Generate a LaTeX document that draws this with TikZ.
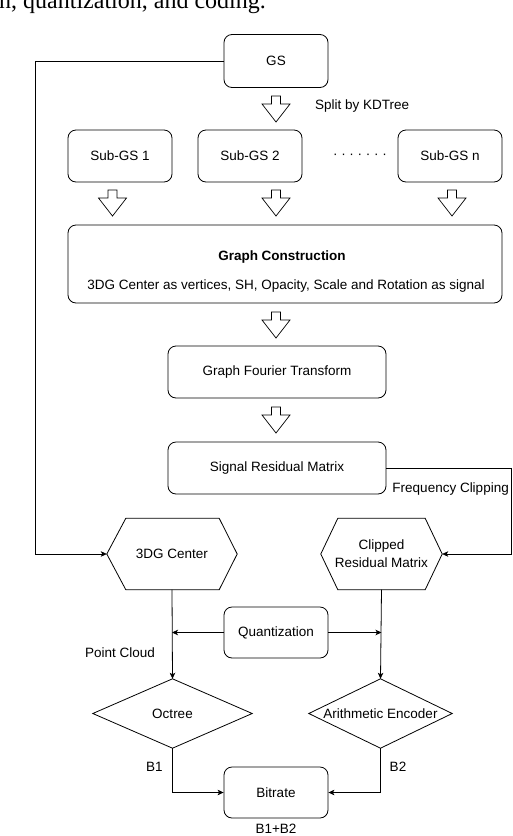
\documentclass[tikz,border=0pt]{standalone}
\usepackage{fontspec}
\setmainfont{Liberation Sans}
\newfontfamily\capfont{Liberation Serif}
\usetikzlibrary{arrows.meta}
\tikzset{
  txt/.style={font=\fontsize{13.5}{18}\selectfont},
  rbox/.style={draw, line width=0.8pt, rounded corners=8pt, minimum width=104pt, minimum height=52pt, inner sep=0pt, txt},
  shapebox/.style={inner sep=0pt, txt, align=center},
  lbl/.style={inner sep=0pt, txt},
  conn/.style={line width=0.8pt, -{Stealth[length=6pt,width=5.5pt,inset=1.5pt]}},
  outline/.style={line width=0.8pt},
  blockarrow/.pic={\draw[line width=0.7pt, line join=miter] (-4.5,0) -- (4.5,0) -- (4.5,8) -- (14,8) -- (0,26) -- (-14,8) -- (-4.5,8) -- cycle;}
}
\begin{document}
\begin{tikzpicture}[x=1pt,y=-1pt]
\useasboundingbox (0,0) rectangle (512,836);

% cropped caption line
\node[anchor=base west, inner sep=0pt, font=\capfont\fontsize{24}{24}\selectfont] (cap) at (-1,8) {n, quantization, and coding.};

% top boxes
\node[rbox, minimum height=53pt] (gs) at (276,61) {GS};
\pic at (276,96) {blockarrow};
\node[lbl, anchor=west] (split) at (315,106) {Split by KDTree};

\node[rbox] (sub1) at (120,156) {Sub-GS 1};
\node[rbox] (sub2) at (250,156) {Sub-GS 2};
\node[lbl] (dots) at (360,156) {· · · · · · ·};
\node[rbox] (subn) at (450,156) {Sub-GS n};

\pic at (112.5,190) {blockarrow};
\pic at (276,190) {blockarrow};
\pic at (452,190) {blockarrow};

\node[rbox, minimum width=434pt, minimum height=78pt] (gc) at (285,264) {};
\node[lbl, font=\fontsize{13.5}{18}\selectfont\bfseries] (gct1) at (282,257) {Graph Construction};
\node[lbl] (gct2) at (286,286) {3DG Center as vertices, SH, Opacity, Scale and Rotation as signal};

\pic at (276,312) {blockarrow};
\node[rbox, minimum width=218pt] (gft) at (277,372) {Graph Fourier Transform};
\pic at (276,407) {blockarrow};
\node[rbox, minimum width=218pt] (srm) at (277,468) {Signal Residual Matrix};
\node[lbl, anchor=east] (fc) at (509,489) {Frequency Clipping};

% hexagons
\node[shapebox, minimum width=130pt, minimum height=71pt] (c3dg) at (172,554) {3DG Center};
\draw[outline] ([xshift=19pt]c3dg.north west) -- ([xshift=-18pt]c3dg.north east) -- (c3dg.east) -- ([xshift=-18pt]c3dg.south east) -- ([xshift=19pt]c3dg.south west) -- (c3dg.west) -- cycle;

\node[shapebox, minimum width=121pt, minimum height=71pt] (clip) at (381.5,554) {Clipped\\Residual Matrix};
\draw[outline] ([xshift=17pt]clip.north west) -- ([xshift=-17pt]clip.north east) -- (clip.east) -- ([xshift=-17pt]clip.south east) -- ([xshift=17pt]clip.south west) -- (clip.west) -- cycle;

% quantization
\node[rbox, minimum height=51pt] (quant) at (276,632.5) {Quantization};
\node[lbl] (pc) at (120,653) {Point Cloud};

% diamonds
\node[shapebox, minimum width=159pt, minimum height=69pt] (oct) at (172.5,713.5) {Octree};
\draw[outline] (oct.north) -- (oct.east) -- (oct.south) -- (oct.west) -- cycle;
\node[shapebox, minimum width=143pt, minimum height=69pt] (ae) at (380.5,713.5) {Arithmetic Encoder};
\draw[outline] (ae.north) -- (ae.east) -- (ae.south) -- (ae.west) -- cycle;

\node[lbl] (b1) at (154.5,767) {B1};
\node[lbl] (b2) at (398,767) {B2};
\node[rbox, minimum height=51pt] (bit) at (276,792.5) {Bitrate};
\node[lbl] (b12) at (276,829) {B1+B2};

% connectors
\coordinate (lt) at (35,61);
\coordinate (lb) at (35,554);
\coordinate (rt) at (511,468);
\coordinate (rb) at (511,554);
\draw[conn] (gs.west) -- (lt) -- (lb) -- (c3dg.west);
\draw[conn] (srm.east) -- (rt) -- (rb) -- (clip.east);
\draw[conn] (c3dg.south) -- (oct.north);
\draw[conn] (clip.south) -- (ae.north);
\draw[conn] (quant.west) -- (quant.west -| c3dg.south);
\draw[conn] (quant.east) -- (quant.east -| clip.south);
\draw[conn] (oct.south) |- (bit.west);
\draw[conn] (ae.south) |- (bit.east);
\end{tikzpicture}
\end{document}
